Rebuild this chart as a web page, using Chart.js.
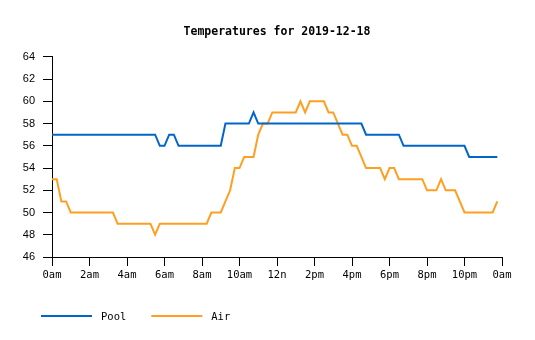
<!DOCTYPE html>
<html>
<head>
<meta charset="utf-8">
<script src="https://cdn.jsdelivr.net/npm/chart.js@4.4.1/dist/chart.umd.min.js"></script>
<style>
  html, body { margin: 0; padding: 0; background: #fff; }
  #wrap { width: 535px; height: 340px; }
</style>
</head>
<body>
<div id="wrap"><canvas id="mycanvas" width="535" height="340"></canvas></div>
<script>
// readings every 15 minutes, 0:00 .. 23:45
var sampleHours = 0.25;

var pool = [
	57,57,57,57,57,57,57,57,57,57,57,57,57,57,57,57,57,57,57,57,57,57,57,
	56,56,57,57,
	56,56,56,56,56,56,56,56,56,56,
	58,58,58,58,58,58,59,
	58,58,58,58,58,58,58,58,58,58,58,58,58,58,58,58,58,58,58,58,58,58,58,
	57,57,57,57,57,57,57,57,
	56,56,56,56,56,56,56,56,56,56,56,56,56,56,
	55,55,55,55,55,55,55
];

var air = [
	53,53,51,51,
	50,50,50,50,50,50,50,50,50,50,
	49,49,49,49,49,49,49,49,48,
	49,49,49,49,49,49,49,49,49,49,49,
	50,50,50,51,52,54,54,55,55,55,57,58,58,
	59,59,59,59,59,59,60,59,60,60,60,60,59,59,58,57,57,56,56,55,
	54,54,54,54,53,54,54,
	53,53,53,53,53,53,52,52,52,53,52,52,52,51,
	50,50,50,50,50,50,50,51
];

var seriesNames = ['Pool', 'Air'];
var xTickLabels = ['0am','2am','4am','6am','8am','10am','12n','2pm','4pm','6pm','8pm','10pm','0am'];

function toPoints(values) {
	var pts = [];
	for (var i in values) {
		pts.push({x: i * sampleHours, y: values[i]});
	}
	return pts;
}

var mono = "'DejaVu Sans Mono', 'Liberation Mono', monospace";

// simple line legend under the chart
var lineLegend = {
	id: 'lineLegend',
	afterDraw: function(chart) {
		var ctx = chart.ctx;
		var x = 41, y = 316;
		ctx.save();
		ctx.font = '10.5px ' + mono;
		ctx.textBaseline = 'middle';
		ctx.textAlign = 'left';
		chart.data.datasets.forEach(function(ds) {
			ctx.strokeStyle = ds.borderColor;
			ctx.lineWidth = 2;
			ctx.beginPath();
			ctx.moveTo(x, y);
			ctx.lineTo(x + 51, y);
			ctx.stroke();
			ctx.fillStyle = '#000';
			ctx.fillText(ds.label, x + 60, y + 1.5);
			x += 60 + ctx.measureText(ds.label).width + 25;
		});
		ctx.restore();
	}
};

var chartdata = {
	datasets: [
		{
			label: seriesNames[0],
			data: toPoints(pool),
			borderColor: '#0066cc',
			backgroundColor: '#0066cc',
			borderWidth: 2,
			pointRadius: 0,
			tension: 0
		},
		{
			label: seriesNames[1],
			data: toPoints(air),
			borderColor: '#ff9f22',
			backgroundColor: '#ff9f22',
			borderWidth: 2,
			pointRadius: 0,
			tension: 0
		}
	]
};

var ctx = document.getElementById('mycanvas');

var lineGraph = new Chart(ctx, {
	type: 'line',
	data: chartdata,
	plugins: [lineLegend],
	options: {
		responsive: false,
		animation: false,
		layout: { padding: { left: 0, right: 33, top: 0, bottom: 53 } },
		plugins: {
			legend: { display: false },
			tooltip: { enabled: false },
			title: {
				display: true,
				text: 'Temperatures for 2019-12-18',
				fullSize: false,
				color: '#000',
				font: { family: mono, size: 11.5, weight: 'bold', lineHeight: 1.2 },
				padding: { top: 25, bottom: 18 }
			}
		},
		scales: {
			x: {
				type: 'linear',
				min: 0,
				max: 24,
				afterFit: function(scale) { scale.height = 30; },
				border: { color: '#000', width: 1 },
				grid: { drawOnChartArea: false, color: '#000', tickLength: 9 },
				ticks: {
					stepSize: 2,
					maxRotation: 0,
					autoSkip: false,
					padding: 3,
					color: '#000',
					font: { family: mono, size: 10.5 },
					callback: function(value) { return xTickLabels[value / 2]; }
				}
			},
			y: {
				min: 46,
				max: 64,
				afterFit: function(scale) { scale.width = 52; },
				border: { color: '#000', width: 1 },
				grid: { drawOnChartArea: false, color: '#000', tickLength: 9 },
				ticks: {
					stepSize: 2,
					padding: 8,
					color: '#000',
					font: { family: "'Liberation Sans', Arial, sans-serif", size: 11 }
				}
			}
		}
	}
});
</script>
</body>
</html>
